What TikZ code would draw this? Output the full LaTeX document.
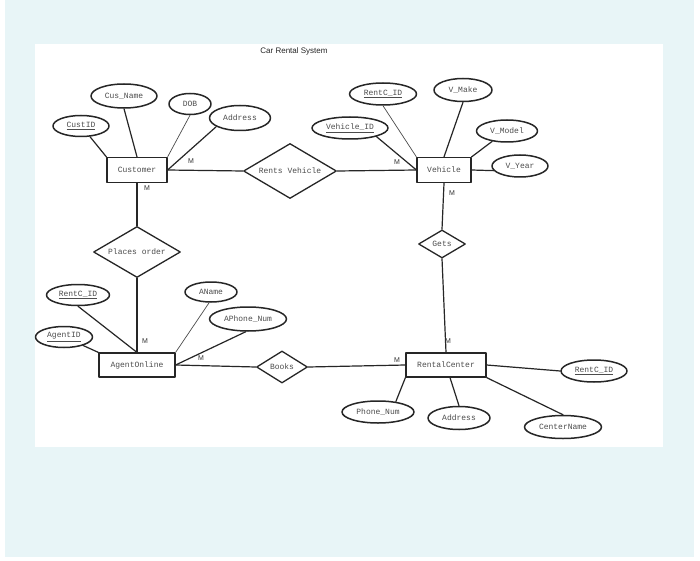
\documentclass[tikz,border=0pt]{standalone}
\usepackage{fontspec}
\setmainfont{Liberation Sans}
\setsansfont{Liberation Sans}
\setmonofont{Liberation Mono}
\usetikzlibrary{shapes.geometric}

\definecolor{panelblue}{RGB}{232,245,247}

\begin{document}
\begin{tikzpicture}[
		x=1pt, y=-1pt,
		line join=round,
		line cap=round,
		font=\ttfamily\fontsize{8}{9}\selectfont,
		entity/.style={draw=black!85, line width=1.2pt, rectangle, inner sep=0pt, text=black!70},
		attr/.style={draw=black!85, line width=1.5pt, ellipse, inner sep=0pt, text=black!70},
		rel/.style={draw=black!85, line width=1.3pt, diamond, aspect=1.7, inner sep=0pt, text=black!70},
		link/.style={black!85, line width=1.2pt},
		thinlink/.style={black!70, line width=0.7pt},
		card/.style={font=\sffamily\fontsize{7}{8}\selectfont, text=black!80, inner sep=0pt},
		ttl/.style={font=\sffamily\fontsize{8}{9}\selectfont, text=black!85, inner sep=0pt}
	]
	
	% Canvas
	\useasboundingbox (0,0) rectangle (700,561);
	\fill[panelblue] (5,0) rectangle (694,557);
	\fill[white] (35,44) rectangle (663,447);
	
	\node[ttl] (title) at (294,51) {Car Rental System};
	
	% Entities
	\node[entity, minimum width=60, minimum height=25] (cust) at (137,170) {Customer};
	\node[entity, minimum width=54, minimum height=25] (veh) at (444,170) {Vehicle};
	\node[entity, minimum width=76, minimum height=24] (agent) at (137,365) {AgentOnline};
	\node[entity, minimum width=80, minimum height=24] (rc) at (446,365) {RentalCenter};
	
	% Relationships
	\node[rel, minimum width=93, minimum height=55] (rents) at (290,171) {Rents Vehicle};
	\node[rel, minimum width=87, minimum height=51] (places) at (137,252) {Places order};
	\node[rel, minimum width=51, minimum height=32] (books) at (282,367) {Books};
	\node[rel, minimum width=47, minimum height=28] (gets) at (442,244) {Gets};
	
	% Customer attributes
	\node[attr, minimum width=56, minimum height=21] (custid) at (81,126) {\underline{CustID}};
	\node[attr, minimum width=66, minimum height=24] (cusname) at (124,96) {Cus\_Name};
	\node[attr, minimum width=42, minimum height=21] (dob) at (190,104) {DOB};
	\node[attr, minimum width=61, minimum height=25] (caddr) at (240,118) {Address};
	
	% Vehicle attributes
	\node[attr, minimum width=67, minimum height=22] (vrentc) at (383,94) {\underline{RentC\_ID}};
	\node[attr, minimum width=76, minimum height=22] (vid) at (350,128) {\underline{Vehicle\_ID}};
	\node[attr, minimum width=58, minimum height=23] (vmake) at (463,90) {V\_Make};
	\node[attr, minimum width=61, minimum height=22] (vmodel) at (507,131) {V\_Model};
	\node[attr, minimum width=56, minimum height=22] (vyear) at (520,166) {V\_Year};
	
	% AgentOnline attributes
	\node[attr, minimum width=63, minimum height=21] (arentc) at (78,295) {\underline{RentC\_ID}};
	\node[attr, minimum width=57, minimum height=21] (agentid) at (64,337) {\underline{AgentID}};
	\node[attr, minimum width=52, minimum height=20] (aname) at (211,292) {AName};
	\node[attr, minimum width=77, minimum height=24] (aphone) at (248,319) {APhone\_Num};
	
	% RentalCenter attributes
	\node[attr, minimum width=66, minimum height=22] (rrentc) at (594,371) {\underline{RentC\_ID}};
	\node[attr, minimum width=72, minimum height=22] (rphone) at (378,412) {Phone\_Num};
	\node[attr, minimum width=62, minimum height=23] (raddr) at (459,418) {Address};
	\node[attr, minimum width=77, minimum height=23] (cname) at (563,427) {CenterName};
	
	% Relationship lines
	\draw[link] (cust.east) -- (rents.west);
	\draw[link] (rents.east) -- (veh.west);
	\draw[link] (cust.south) -- (places.north);
	\draw[link] (places.south) -- (agent.north);
	\draw[link] (agent.east) -- (books.west);
	\draw[link] (books.east) -- (rc.west);
	\draw[link] (veh.south) -- (gets.north);
	\draw[link] (gets.south) -- (rc.north);
	
	% Attribute lines
	\draw[link] (custid.-50) -- (cust.north west);
	\draw[link] (cusname.south) -- (cust.north);
	\draw[thinlink] (dob.south) -- (cust.north east);
	\draw[link] (caddr.-160) -- (cust.east);
	
	\draw[thinlink] (vrentc.south) -- (veh.north west);
	\draw[link] (vid.-18) -- (veh.west);
	\draw[link] (vmake.south) -- (veh.north);
	\draw[link] (vmodel.-145) -- (veh.north east);
	\draw[link] (vyear.-170) -- (veh.east);
	
	\draw[link] (arentc.south) -- (agent.north);
	\draw[link] (agentid.-24) -- (agent.north west);
	\draw[thinlink] (aname.-100) -- (agent.north east);
	\draw[link] (aphone.-100) -- (agent.east);
	
	\draw[link] (rrentc.west) -- (rc.east);
	\draw[link] (rphone.30) -- (rc.south west);
	\draw[link] (raddr.north) -- ([xshift=4pt]rc.south);
	\draw[link] (cname.north) -- (rc.south east);
	
	% Cardinalities
	\node[card] (mcr) at (191,161) {M};
	\node[card] (mcp) at (147,188) {M};
	\node[card] (mvr) at (397,162) {M};
	\node[card] (mvg) at (452,193) {M};
	\node[card] (map) at (145,341) {M};
	\node[card] (mab) at (201,358) {M};
	\node[card] (mrg) at (448,341) {M};
	\node[card] (mrb) at (397,360) {M};
	
\end{tikzpicture}
\end{document}
